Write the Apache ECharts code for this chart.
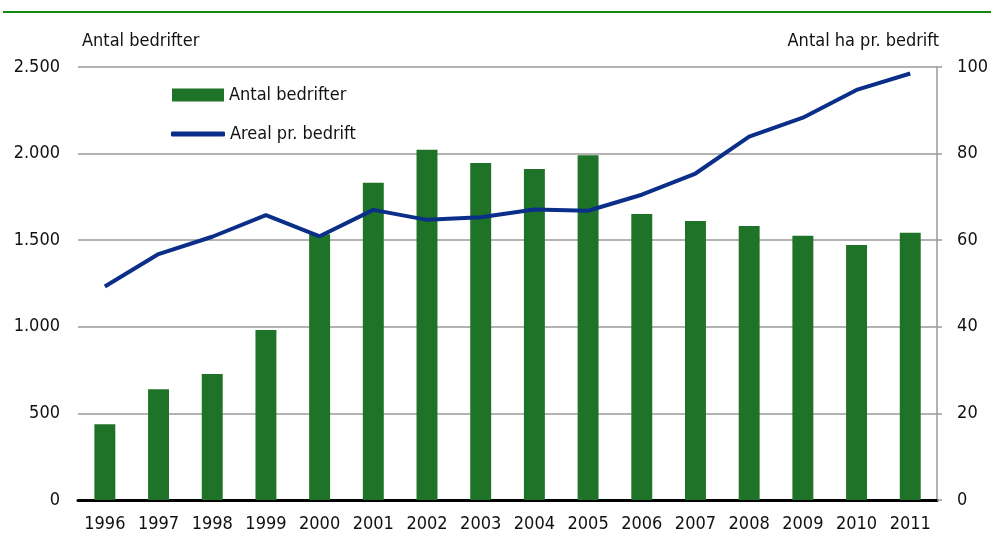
<!DOCTYPE html>
<html>
<head>
<meta charset="utf-8">
<script src="https://cdn.jsdelivr.net/npm/echarts@6/dist/echarts.min.js"></script>
<style>
  html, body { margin: 0; padding: 0; background: #fff; }
  #chart { width: 991px; height: 536px; }
</style>
</head>
<body>
<div id="chart"></div>
<script>
// Years on the category axis
const years = ['1996','1997','1998','1999','2000','2001','2002','2003','2004','2005','2006','2007','2008','2009','2010','2011'];
// Number of farms (left axis)
const antalBedrifter = [438, 640, 728, 982, 1535, 1832, 2022, 1946, 1911, 1991, 1651, 1611, 1582, 1526, 1472, 1543];
// Hectares per farm (right axis)
const arealPrBedrift = [49.3, 56.8, 60.8, 65.8, 60.9, 67.0, 64.7, 65.3, 67.1, 66.8, 70.5, 75.4, 83.9, 88.3, 94.7, 98.5];
// Axis ranges
const leftAxis = { min: 0, max: 2500, interval: 500 };
const rightAxis = { min: 0, max: 100, interval: 20 };

const FONT = '"DejaVu Sans Condensed", "Liberation Sans Narrow", sans-serif';
const BAR_COLOR = '#1e7328';
const LINE_COLOR = '#0b2f88';
const GRID_COLOR = '#9a9a9a';

function dotThousands(v) {
  return String(v).replace(/\B(?=(\d{3})+(?!\d))/g, '.');
}

const chart = echarts.init(document.getElementById('chart'), null, { renderer: 'canvas' });

const legendText = { fontFamily: FONT, fontSize: 18, color: '#111' };

chart.setOption({
  animation: false,
  backgroundColor: '#ffffff',
  textStyle: { fontFamily: FONT },
  graphic: [{
    type: 'line',
    shape: { x1: 3, y1: 12, x2: 991, y2: 12 },
    style: { stroke: '#108a10', lineWidth: 2 }
  }],
  grid: { left: 78, right: 53, top: 67, bottom: 36 },
  legend: [
    {
      left: 167,
      top: 81,
      itemWidth: 52,
      itemHeight: 13,
      textStyle: legendText,
      data: [{ name: 'Antal bedrifter', icon: 'rect' }]
    },
    {
      left: 166,
      top: 120,
      itemWidth: 54,
      itemHeight: 5,
      textStyle: legendText,
      data: [{ name: 'Areal pr. bedrift', icon: 'roundRect' }]
    }
  ],
  xAxis: {
    type: 'category',
    data: years,
    axisLine: { show: true, lineStyle: { color: '#000', width: 3 } },
    axisTick: { show: false },
    axisLabel: { color: '#111', fontSize: 18, fontFamily: FONT, margin: 15 }
  },
  yAxis: [
    {
      type: 'value',
      min: leftAxis.min, max: leftAxis.max, interval: leftAxis.interval,
      name: 'Antal bedrifter',
      nameLocation: 'end',
      nameGap: 17,
      nameTextStyle: { color: '#111', fontSize: 18, fontFamily: FONT, align: 'left', padding: [0, 0, 0, 4] },
      axisLine: { show: false },
      axisTick: { show: false },
      axisLabel: { color: '#111', fontSize: 18, fontFamily: FONT, margin: 18, formatter: dotThousands },
      splitLine: { show: true, lineStyle: { color: GRID_COLOR, width: 1.5 } }
    },
    {
      type: 'value',
      position: 'right',
      min: rightAxis.min, max: rightAxis.max, interval: rightAxis.interval,
      name: 'Antal ha pr. bedrift',
      nameLocation: 'end',
      nameGap: 17,
      nameTextStyle: { color: '#111', fontSize: 18, fontFamily: FONT, align: 'right', padding: [0, -2, 0, 0] },
      axisLine: { show: true, lineStyle: { color: GRID_COLOR, width: 1.5 } },
      axisTick: { show: true, length: 5, lineStyle: { color: GRID_COLOR, width: 1.5 } },
      axisLabel: { color: '#111', fontSize: 18, fontFamily: FONT, margin: 20 },
      splitLine: { show: false }
    }
  ],
  series: [
    {
      name: 'Antal bedrifter',
      type: 'bar',
      yAxisIndex: 0,
      data: antalBedrifter,
      barWidth: '39%',
      itemStyle: { color: BAR_COLOR }
    },
    {
      name: 'Areal pr. bedrift',
      type: 'line',
      yAxisIndex: 1,
      data: arealPrBedrift,
      symbol: 'none',
      lineStyle: { color: LINE_COLOR, width: 4 },
      itemStyle: { color: LINE_COLOR },
      z: 5
    }
  ]
});
</script>
</body>
</html>
